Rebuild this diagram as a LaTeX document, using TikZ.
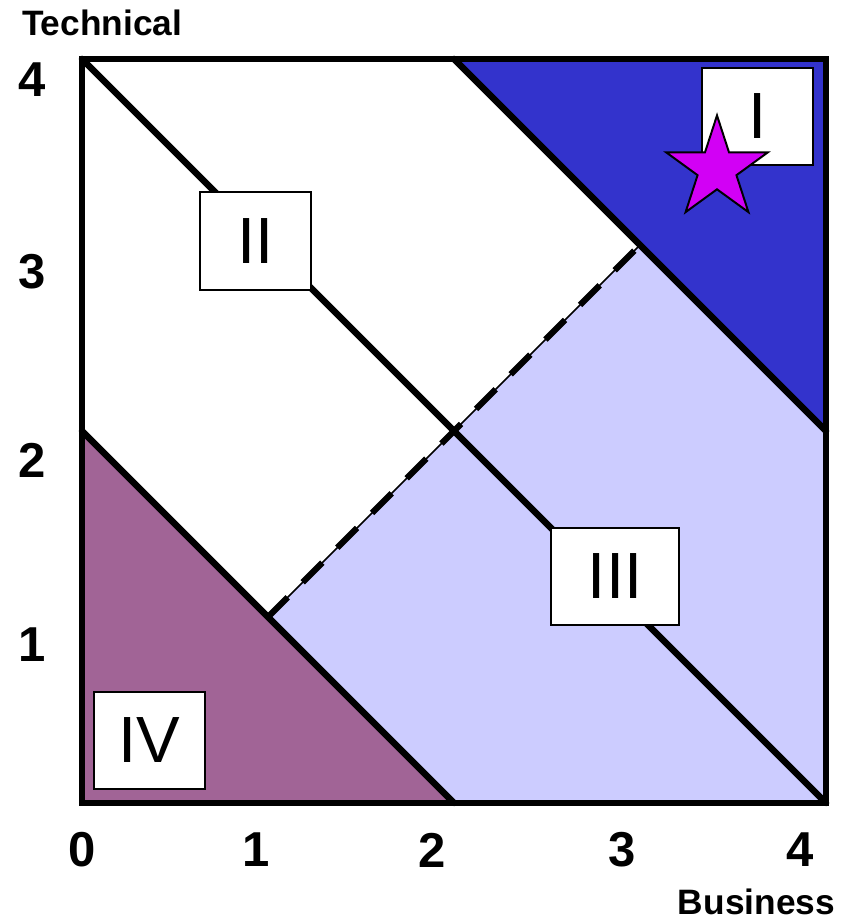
\documentclass[tikz,border=0pt]{standalone}
\usepackage{fontspec}
\setmainfont{Liberation Sans}
\usetikzlibrary{shapes.geometric}
\definecolor{zoneI}{RGB}{51,51,204}
\definecolor{zoneIII}{RGB}{204,204,255}
\definecolor{zoneIV}{RGB}{161,100,150}
\definecolor{starfill}{RGB}{210,0,245}

\begin{document}
\begin{tikzpicture}[x=2cm, y=2cm,
  edge/.style={line width=2pt, line cap=round},
  split/.style={line width=1.9pt, dash pattern=on 8.5pt off 6.5pt},
  zone/.style={draw, line width=0.6pt, fill=white, minimum width=1.19cm, minimum height=1.05cm, font=\fontsize{20}{24}\selectfont, inner sep=0pt},
  tick/.style={font=\fontsize{15}{18}\selectfont\bfseries},
  axis/.style={font=\fontsize{10.8}{13}\selectfont\bfseries}
]
\useasboundingbox (-0.441,-0.624) rectangle (4.140,4.317);
% corners of the grid
\coordinate (o)  at (0,0);
\coordinate (b2) at (2,0);
\coordinate (b4) at (4,0);
\coordinate (l2) at (0,2);
\coordinate (l4) at (0,4);
\coordinate (t2) at (2,4);
\coordinate (t4) at (4,4);
\coordinate (r2) at (4,2);
\coordinate (m1) at (1,1);
\coordinate (m3) at (3,3);
% zones
\fill[zoneI]   (t2) -- (t4) -- (r2) -- cycle;
\fill[zoneIII] (b2) -- (b4) -- (r2) -- (m3) -- (m1) -- cycle;
\fill[zoneIV]  (o) -- (b2) -- (l2) -- cycle;
% boundaries
\draw[edge] (l2) -- (b2);
\draw[edge] (l4) -- (b4);
\draw[edge] (t2) -- (r2);
\draw[line width=0.5pt] (m1) -- (m3);
\draw[split] (m1) -- (m3);
\draw[edge] (o) rectangle (t4);
% zone labels
\node[zone] (z1) at (3.632,3.691) {I};
\node[zone] (z2) at (0.933,3.022) {II};
\node[zone, minimum width=1.376cm] (z3) at (2.866,1.218) {III};
\node[zone] (z4) at (0.363,0.336) {IV};
\node[star, star points=5, star point ratio=2.618, draw, line width=0.6pt, fill=starfill, minimum size=1.15cm, inner sep=0pt] (best) at (3.414,3.409) {};
% axes
\node[tick] (x0) at (0.000,-0.253) {0};
\node[tick] (x1) at (0.935,-0.253) {1};
\node[tick] (x2) at (1.882,-0.253) {2};
\node[tick] (x3) at (2.903,-0.253) {3};
\node[tick] (x4) at (3.860,-0.253) {4};
\node[tick] (y1) at (-0.269,0.849) {1};
\node[tick] (y2) at (-0.269,1.844) {2};
\node[tick] (y3) at (-0.269,2.855) {3};
\node[tick] (y4) at (-0.269,3.887) {4};
\node[axis] (tech) at (0.108,4.196) {Technical};
\node[axis] (bus)  at (3.626,-0.530) {Business};
\end{tikzpicture}
\end{document}
